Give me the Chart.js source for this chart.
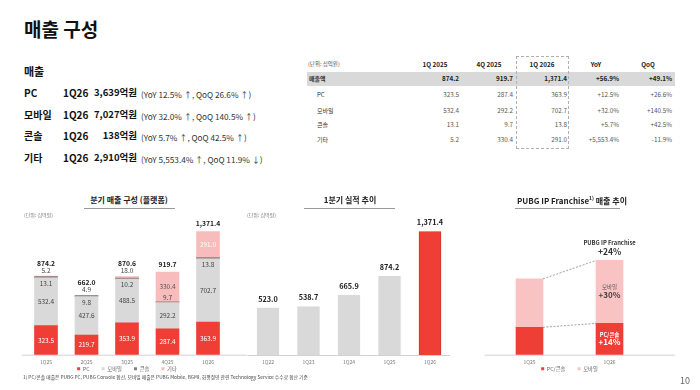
<!DOCTYPE html>
<html><head><meta charset="utf-8">
<script src="https://cdn.jsdelivr.net/npm/chart.js@4"></script>
<style>
html,body{margin:0;padding:0;background:#fff;}
body{width:700px;height:390px;position:relative;overflow:hidden;font-family:"Noto Sans CJK KR","Noto Sans",sans-serif;color:#1a1a1a;}
.t{position:absolute;white-space:nowrap;line-height:1;}
.box{position:absolute;}
canvas{position:absolute;}
</style></head><body>
<div class="box" style="left:307px;top:72px;width:368px;height:14px;background:#d9d9d9"></div>
<div class="box" style="left:516px;top:56px;width:51px;height:91px;border:1px dashed #b0b0b0"></div>
<div class="box" style="left:84px;top:208px;width:91px;height:1px;background:#9a9a9a"></div>
<div class="box" style="left:304px;top:208px;width:91px;height:1px;background:#9a9a9a"></div>
<div class="box" style="left:515px;top:208px;width:105px;height:1px;background:#9a9a9a"></div>
<canvas id="c1" width="240" height="172" style="left:10px;top:212px"></canvas>
<canvas id="c2" width="218" height="160" style="left:240px;top:212px"></canvas>
<canvas id="c3" width="210" height="172" style="left:470px;top:212px"></canvas>
<script>
// ---------- data ----------
const summaryLabels = ['PC', '모바일', '콘솔', '기타'];
const summaryQuarter = '1Q26';
const summaryAmounts = ['3,639억원', '7,027억원', '138억원', '2,910억원'];
const summaryYoY = ['12.5% ↑', '32.0% ↑', '5.7% ↑', '5,553.4% ↑'];
const summaryQoQ = ['26.6% ↑', '140.5% ↑', '42.5% ↑', '11.9% ↓'];

const tableHeaders = ['1Q 2025', '4Q 2025', '1Q 2026', 'YoY', 'QoQ'];
const tableRowLabels = ['매출액', 'PC', '모바일', '콘솔', '기타'];
const table1Q25 = [874.2, 323.5, 532.4, 13.1, 5.2];
const table4Q25 = [919.7, 287.4, 292.2, 9.7, 330.4];
const table1Q26 = [1371.4, 363.9, 702.7, 13.8, 291.0];
const tableYoY = ['+56.9%', '+12.5%', '+32.0%', '+5.7%', '+5,553.4%'];
const tableQoQ = ['+49.1%', '+26.6%', '+140.5%', '+42.5%', '-11.9%'];

const platformQuarters = ['1Q25', '2Q25', '3Q25', '4Q25', '1Q26'];
const pcSales = [323.5, 219.7, 353.9, 287.4, 363.9];
const mobileSales = [532.4, 427.6, 488.5, 292.2, 702.7];
const consoleSales = [13.1, 9.8, 10.2, 9.7, 13.8];
const otherSales = [5.2, 4.9, 18.0, 330.4, 291.0];
const platformTotals = [874.2, 662.0, 870.6, 919.7, 1371.4];

const firstQuarters = ['1Q22', '1Q23', '1Q24', '1Q25', '1Q26'];
const firstQuarterSales = [523.0, 538.7, 665.9, 874.2, 1371.4];

const pubgQuarters = ['1Q25', '1Q26'];
const pubgPcConsole = [27.5, 31.4];
const pubgMobile = [48.5, 63.1];
const pubgGrowth = ['+24%', '+30%', '+14%'];

// ---------- styles ----------
const F = '"Noto Sans CJK KR", "Noto Sans", sans-serif';
const RED = '#ef3e36', GRAY = '#d9d9d9', DARK = '#8b7d7d', PINK = '#f9bcbc', PINK2 = '#f9c3c3';
const otherLabelColors = ['#555', '#555', '#555', '#555', '#fff'];

function T(x, y, s, o = {}) {
  const d = document.createElement('div');
  d.className = 't';
  if (o.html) d.innerHTML = s; else d.textContent = s;
  d.style.left = x + 'px'; d.style.top = y + 'px';
  d.style.fontSize = (o.size || 8) + 'px';
  d.style.fontWeight = o.bold ? '700' : '400';
  d.style.color = o.color || '#1a1a1a';
  const tx = o.align === 'right' ? '-100%' : o.align === 'center' ? '-50%' : '0';
  d.style.transform = `translate(${tx},-50%)`;
  document.body.appendChild(d);
  return d;
}
const fmt = v => v.toLocaleString('en-US', {minimumFractionDigits: 1, maximumFractionDigits: 1});

// ---------- text blocks ----------
T(24, 28, '매출 구성', {size: 19, bold: true, color: '#111'});
T(24, 71, '매출', {size: 11, bold: true, color: '#111'});
const rowY = [93, 115, 136, 158];
summaryLabels.forEach((l, i) => {
  T(24, rowY[i], l, {size: 10, bold: true, color: '#111'});
  T(63, rowY[i], summaryQuarter, {size: 10, bold: true, color: '#111'});
  T(137, rowY[i], summaryAmounts[i], {size: 9.5, bold: true, color: '#111', align: 'right'});
  T(141, rowY[i] + 0.5, `(YoY ${summaryYoY[i]}, QoQ ${summaryQoQ[i]})`, {size: 8.2, color: '#333'});
});

// table
T(308, 65, '(단위: 십억원)', {size: 5.5, color: '#555'});
const headX = [435, 489, 542, 596, 648];
tableHeaders.forEach((h, i) => T(headX[i], 65, h, {size: 6.3, bold: true, color: '#222', align: 'center'}));
const tRowY = [79, 95, 111, 125, 140];
const colRight = [459, 513, 567, 619, 672];
tableRowLabels.forEach((l, r) => {
  const b = r === 0;
  T(b ? 309 : 317, tRowY[r], l, {size: 6, bold: b, color: '#333'});
  const vals = [fmt(table1Q25[r]), fmt(table4Q25[r]), fmt(table1Q26[r]), tableYoY[r], tableQoQ[r]];
  vals.forEach((v, c) => T(colRight[c], tRowY[r], v, {size: 6.3, bold: b, color: b ? '#222' : '#555', align: 'right'}));
});

// chart titles
T(129, 200, '분기 매출 구성 (플랫폼)', {size: 8, bold: true, color: '#222', align: 'center'});
T(350, 200, '1분기 실적 추이', {size: 8, bold: true, color: '#222', align: 'center'});
T(572, 200, 'PUBG IP Franchise<sup style="font-size:5px">1)</sup> 매출 추이', {size: 8, bold: true, color: '#222', align: 'center', html: true});
T(24, 214, '(단위: 십억원)', {size: 5, color: '#777'});
T(247, 214, '(단위: 십억원)', {size: 5, color: '#777'});
T(23, 377, '1) PC/콘솔 매출은 PUBG PC, PUBG Console 합산, 모바일 매출은 PUBG Mobile, BGMI, 화평정영 관련 Technology Service 수수료 합산 기준', {size: 4.8, color: '#444'});
T(690, 380, '10', {size: 9, color: '#666', align: 'right'});

// ---------- Chart.js ----------
Chart.defaults.font.family = F;
Chart.defaults.animation = false;

const axisExt = {
  id: 'axisExt',
  beforeDatasetsDraw(chart, args, opts) {
    const a = chart.chartArea, ctx = chart.ctx;
    ctx.save();
    ctx.strokeStyle = '#d2d2d2'; ctx.lineWidth = 1;
    ctx.beginPath();
    ctx.moveTo(a.left - (opts.left || 0), a.bottom + 0.5);
    ctx.lineTo(a.right + (opts.right || 0), a.bottom + 0.5);
    ctx.stroke();
    ctx.restore();
  }
};

function xScale(h) {
  return {
    stacked: true,
    grid: {display: false, drawTicks: false},
    border: {display: false},
    ticks: {font: {size: 5}, color: '#777', padding: 4, maxRotation: 0, autoSkip: false},
    afterFit: s => { s.height = h; }
  };
}

function spacedLegend() {
  return {
    boxWidth: 3, boxHeight: 3, padding: 1.5, color: '#666', font: {size: 5.3},
    generateLabels(chart) {
      const items = Chart.defaults.plugins.legend.labels.generateLabels(chart);
      items.forEach((it, i) => { if (i < items.length - 1) it.text += '\u2003\u2003'; });
      return items;
    }
  };
}

const platformLabels = {
  id: 'platformLabels',
  afterDatasetsDraw(chart) {
    const ctx = chart.ctx;
    const m = [0, 1, 2, 3].map(d => chart.getDatasetMeta(d).data);
    ctx.save();
    ctx.textAlign = 'center'; ctx.textBaseline = 'middle';
    platformQuarters.forEach((q, i) => {
      const pc = m[0][i], mo = m[1][i], co = m[2][i], ot = m[3][i];
      ctx.font = '6.5px ' + F;
      ctx.fillStyle = '#fff';
      ctx.fillText(fmt(pcSales[i]), pc.x, (pc.y + pc.base) / 2);
      ctx.fillStyle = '#444';
      ctx.fillText(fmt(mobileSales[i]), mo.x, (mo.y + mo.base) / 2);
      const bigOther = ot.base - ot.y > 12;
      // console label: inside the large "other" segment just above the line when present below, else below the line
      ctx.fillText(fmt(consoleSales[i]), co.x, (bigOther && i === 3) ? co.y - 4.5 : co.base + 5.5);
      let totalY;
      if (bigOther) {
        ctx.fillStyle = otherLabelColors[i];
        ctx.fillText(fmt(otherSales[i]), ot.x, (ot.y + ot.base) / 2);
        totalY = ot.y - 8;
      } else {
        ctx.fillStyle = '#444';
        ctx.fillText(fmt(otherSales[i]), ot.x, ot.y - 6);
        totalY = ot.y - 13;
      }
      ctx.font = 'bold 6.8px ' + F; ctx.fillStyle = '#222';
      ctx.fillText(fmt(platformTotals[i]), ot.x, totalY);
    });
    ctx.restore();
  }
};

new Chart(document.getElementById('c1'), {
  type: 'bar',
  data: {
    labels: platformQuarters,
    datasets: [
      {label: 'PC', data: pcSales, backgroundColor: RED},
      {label: '모바일', data: mobileSales, backgroundColor: GRAY},
      {label: '콘솔', data: consoleSales, backgroundColor: DARK},
      {label: '기타', data: otherSales, backgroundColor: PINK}
    ]
  },
  options: {
    responsive: false, devicePixelRatio: 1,
    datasets: {bar: {barThickness: 23}},
    layout: {padding: {left: 15.75, right: 21.75, top: 8, bottom: 2.5}},
    scales: {
      x: xScale(10),
      y: {display: false, stacked: true, min: 0, max: 1500}
    },
    plugins: {
      legend: {position: 'bottom', labels: spacedLegend()},
      tooltip: {enabled: false},
      axisExt: {left: 4, right: 19}
    }
  },
  plugins: [axisExt, platformLabels]
});

const topLabels = {
  id: 'topLabels',
  afterDatasetsDraw(chart) {
    const ctx = chart.ctx;
    ctx.save();
    ctx.textAlign = 'center'; ctx.textBaseline = 'middle';
    ctx.font = 'bold 7.3px ' + F; ctx.fillStyle = '#222';
    chart.getDatasetMeta(0).data.forEach((el, i) => ctx.fillText(fmt(firstQuarterSales[i]), el.x, el.y - 9));
    ctx.restore();
  }
};

new Chart(document.getElementById('c2'), {
  type: 'bar',
  data: {
    labels: firstQuarters,
    datasets: [{
      label: '1분기 매출', data: firstQuarterSales,
      backgroundColor: firstQuarters.map((q, i) => i === firstQuarters.length - 1 ? RED : GRAY),
      borderColor: firstQuarters.map((q, i) => i === firstQuarters.length - 1 ? '#c9302a' : GRAY),
      borderWidth: 0.8
    }]
  },
  options: {
    responsive: false, devicePixelRatio: 1,
    datasets: {bar: {barThickness: 22}},
    layout: {padding: {left: 7.75, right: 7.75, top: 8, bottom: 0}},
    scales: {
      x: xScale(17),
      y: {display: false, min: 0, max: 1500}
    },
    plugins: {legend: {display: false}, tooltip: {enabled: false}, axisExt: {left: 0, right: 0}}
  },
  plugins: [axisExt, topLabels]
});

const pubgPlugin = {
  id: 'pubgPlugin',
  afterDatasetsDraw(chart) {
    const ctx = chart.ctx;
    const pc = chart.getDatasetMeta(0).data, mo = chart.getDatasetMeta(1).data;
    ctx.save();
    ctx.setLineDash([2, 1.5]); ctx.strokeStyle = '#8a8a8a'; ctx.lineWidth = 0.8;
    [[mo[0], mo[1]], [pc[0], pc[1]]].forEach(([a, b]) => {
      ctx.beginPath();
      ctx.moveTo(a.x + a.width / 2, a.y);
      ctx.lineTo(b.x - b.width / 2, b.y);
      ctx.stroke();
    });
    ctx.setLineDash([]);
    ctx.textAlign = 'center'; ctx.textBaseline = 'middle';
    const b1 = mo[1], b0 = pc[1];
    ctx.fillStyle = '#333';
    ctx.font = 'bold 5.8px ' + F; ctx.fillText('PUBG IP Franchise', b1.x, b1.y - 18);
    ctx.font = 'bold 8.5px ' + F; ctx.fillText(pubgGrowth[0], b1.x, b1.y - 9);
    const mc = (b1.y + b1.base) / 2;
    ctx.fillStyle = '#555'; ctx.font = '5.5px ' + F; ctx.fillText(chart.data.datasets[1].label, b1.x, mc - 4.5);
    ctx.fillStyle = '#444'; ctx.font = 'bold 8px ' + F; ctx.fillText(pubgGrowth[1], b1.x, mc + 3);
    const pm = (b0.y + b0.base) / 2;
    ctx.fillStyle = '#fff'; ctx.font = 'bold 5.5px ' + F; ctx.fillText(chart.data.datasets[0].label, b0.x, pm - 4);
    ctx.font = 'bold 8px ' + F; ctx.fillText(pubgGrowth[2], b0.x, pm + 3);
    ctx.restore();
  }
};

new Chart(document.getElementById('c3'), {
  type: 'bar',
  data: {
    labels: pubgQuarters,
    datasets: [
      {label: 'PC/콘솔', data: pubgPcConsole, backgroundColor: RED},
      {label: '모바일', data: pubgMobile, backgroundColor: PINK2}
    ]
  },
  options: {
    responsive: false, devicePixelRatio: 1,
    datasets: {bar: {barThickness: 27}},
    layout: {padding: {left: 19.5, right: 30.5, top: 8, bottom: 2.5}},
    scales: {
      x: xScale(10),
      y: {display: false, stacked: true, min: 0, max: 135}
    },
    plugins: {
      legend: {position: 'bottom', labels: spacedLegend()},
      tooltip: {enabled: false},
      axisExt: {left: 5, right: 25.5}
    }
  },
  plugins: [axisExt, pubgPlugin]
});
</script>
</body></html>
